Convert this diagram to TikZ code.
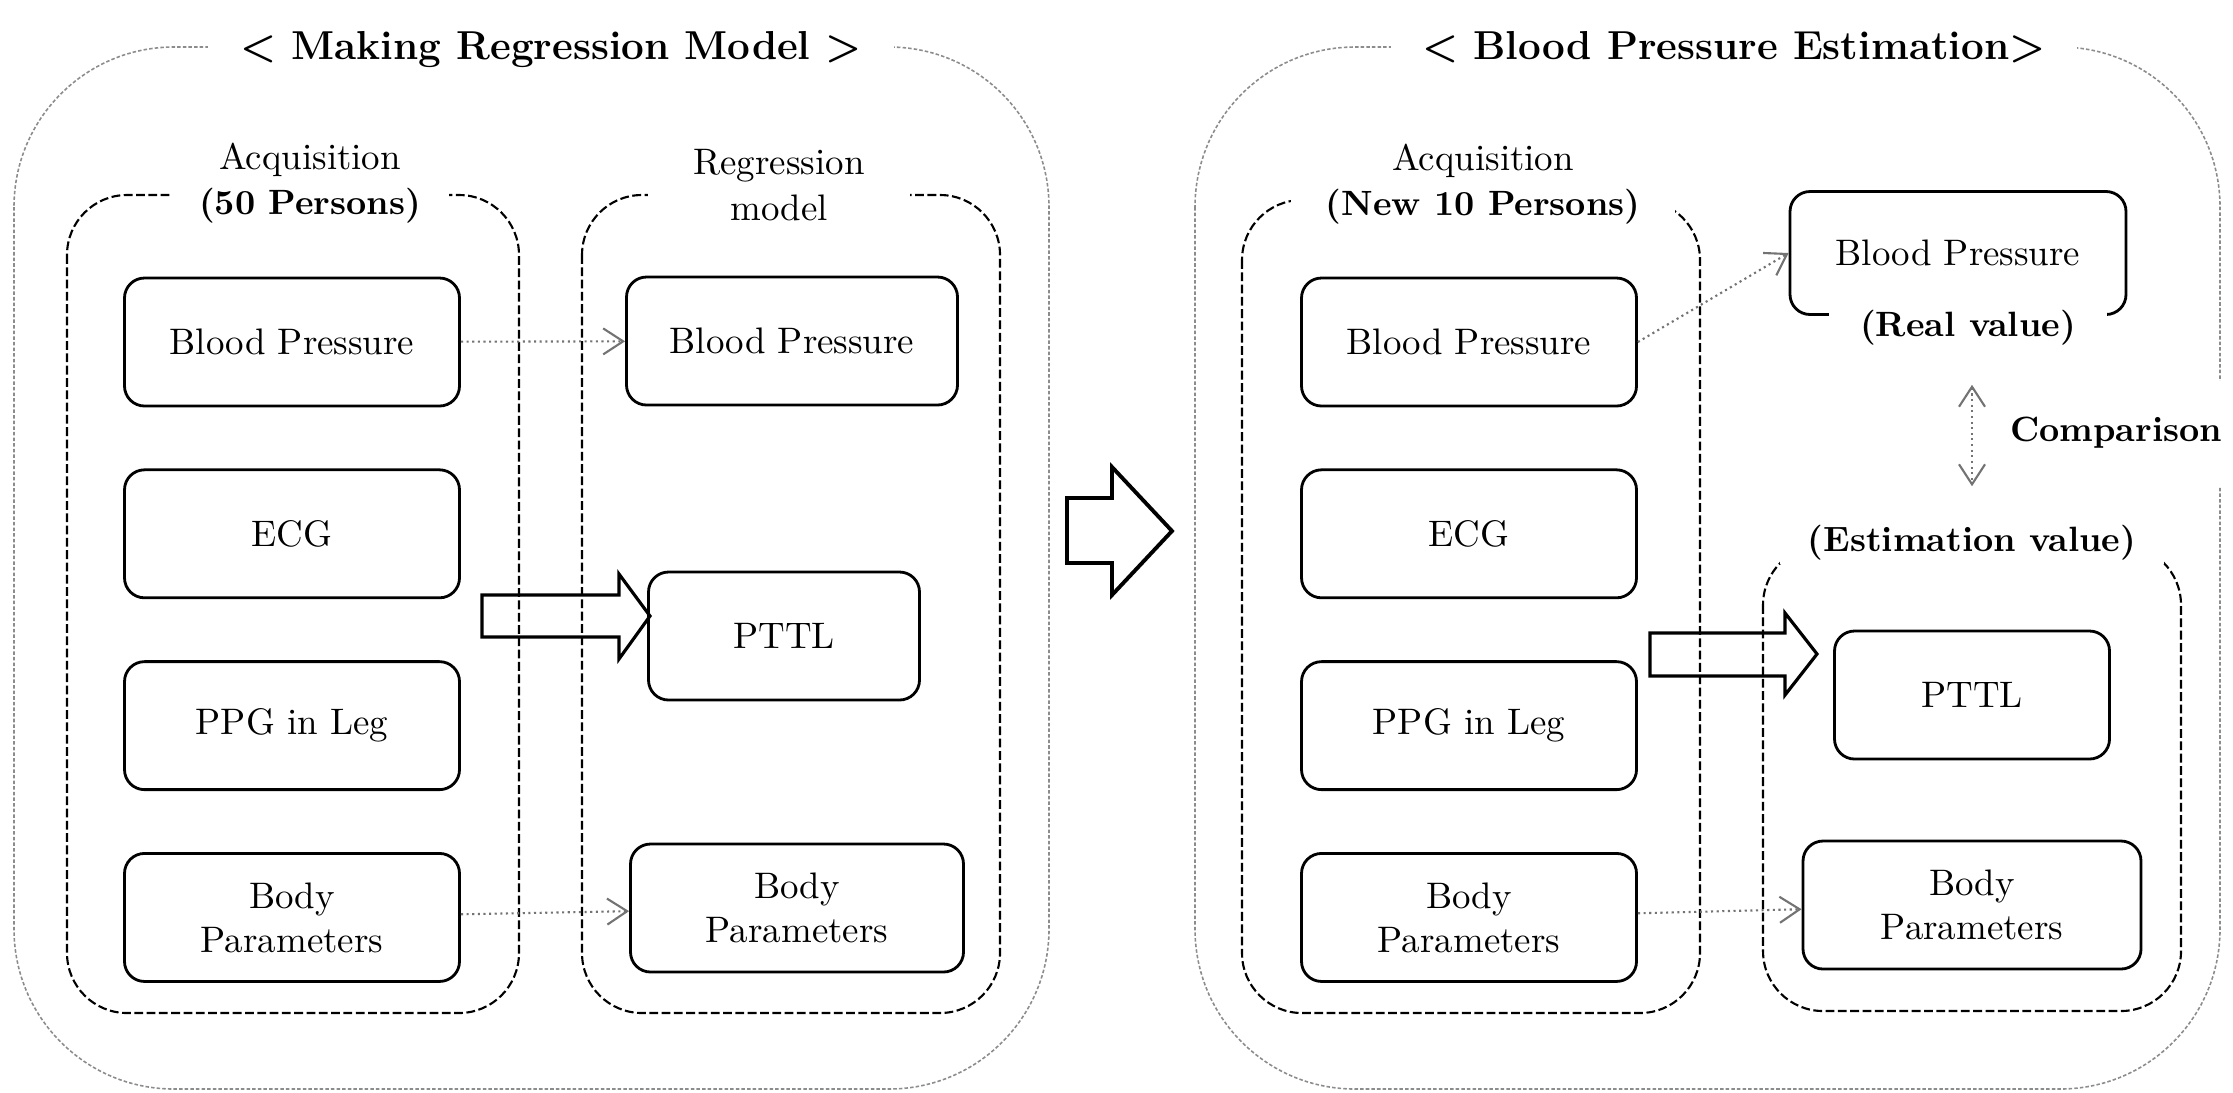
\documentclass[tikz,border=0pt]{standalone}
\usepackage{fontspec}
\usetikzlibrary{arrows.meta,positioning}
\tikzset{
  box/.style={draw, line width=0.8pt, rounded corners=2mm, align=center, minimum width=33.5mm, minimum height=12.8mm, font=\fontsize{10.5}{12.5}\selectfont},
  group/.style={draw, line width=0.6pt, dash pattern=on 2.5pt off 1pt, rounded corners=6mm},
  panel/.style={draw=black!45, line width=0.45pt, dash pattern=on 1pt off 0.6pt, rounded corners=16mm},
  tag/.style={fill=white, align=center, inner ysep=1pt, font=\fontsize{10.5}{13}\selectfont},
  headline/.style={fill=white, inner xsep=9pt, font=\fontsize{11.5}{14}\selectfont\bfseries},
  link/.style={draw=black!55, line width=0.6pt, densely dotted, ->},
  fat/.style={draw, line width=0.9pt, line join=miter}
}
\newcommand{\bnote}[1]{{\fontsize{10}{13}\selectfont\bfseries #1}}

\begin{document}
\begin{tikzpicture}[x=0.1mm, y=-0.1mm, node distance=6.1mm, >={Straight Barb[length=2mm, width=2.6mm]}]
\useasboundingbox (0,0) rectangle (2233,1092);
% panels and groups
\draw[panel] (14,47) rectangle (1049,1089);
\draw[panel] (1195,47) rectangle (2220,1089);
\draw[group] (67,195) rectangle (519,1013);
\draw[group] (582,195) rectangle (1000,1013);
\draw[group] (1242,200) rectangle (1700,1013);
\draw[group] (1763,545) rectangle (2181,1011);

\node[headline] (titleL) at (551,50) {< Making Regression Model >};
\node[headline] (titleR) at (1734,47) {< Blood Pressure Estimation>};
\node[tag, inner xsep=8pt] (acqL) at (310,183) {Acquisition\\\bnote{(50 Persons)}};
\node[tag, inner xsep=13pt] (regM) at (779,185) {Regression\\model};
\node[tag, inner xsep=10pt] (acqR) at (1483,184) {Acquisition\\\bnote{(New 10 Persons)}};

% making regression model
\node[box] (bpL) at (292,342) {Blood Pressure};
\node[box, below=of bpL] (ecgL) {ECG};
\node[box, below=of ecgL] (ppgL) {PPG in Leg};
\node[box, below=of ppgL] (bodyL) {Body\\Parameters};
\node[box, minimum width=33.1mm] (bpM) at (792,341) {Blood Pressure};
\node[box, minimum width=27.1mm] (pttlM) at (784,636) {PTTL};
\node[box, minimum width=33.3mm] (bodyM) at (797,908) {Body\\Parameters};

% blood pressure estimation
\node[box] (bpR) at (1469,342) {Blood Pressure};
\node[box, below=of bpR] (ecgR) {ECG};
\node[box, below=of ecgR] (ppgR) {PPG in Leg};
\node[box, below=of ppgR] (bodyR) {Body\\Parameters};
\node[box, minimum width=33.6mm, minimum height=12.3mm] (bpReal) at (1958,253) {Blood Pressure};
\node[tag, inner xsep=9pt] (realval) at (1968,328) {\bnote{(Real value)}};
\node[tag, inner xsep=8pt] (estval) at (1972,543) {\bnote{(Estimation value)}};
\node[box, minimum width=27.5mm] (pttlR) at (1972,695) {PTTL};
\node[box, minimum width=33.8mm] (bodyE) at (1972,905) {Body\\Parameters};
\node[tag, minimum height=10.5mm, inner xsep=1pt] (cmp) at (2116,433) {\bnote{Comparison}};

\draw[link] (bpL) -- (bpM);
\draw[link] (bodyL) -- (bodyM);
\draw[link] (bpR.east) -- (bpReal.west);
\draw[link] (bodyR) -- (bodyE);
\draw[link, <->, shorten <=3.5mm, shorten >=3.5mm] (estval.north |- realval.south) -- (estval.north);

% block arrows
\draw[fat] (482,595) -- (619,595) -- (619,574) -- (650,616) -- (619,659) -- (619,637) -- (482,637) -- cycle;
\draw[fat, line width=1.1pt] (1067,498) -- (1112,498) -- (1112,467) -- (1172,531) -- (1112,595) -- (1112,563) -- (1067,563) -- cycle;
\draw[fat] (1650,633) -- (1785,633) -- (1785,613) -- (1817,654) -- (1785,695) -- (1785,676) -- (1650,676) -- cycle;
\end{tikzpicture}
\end{document}
